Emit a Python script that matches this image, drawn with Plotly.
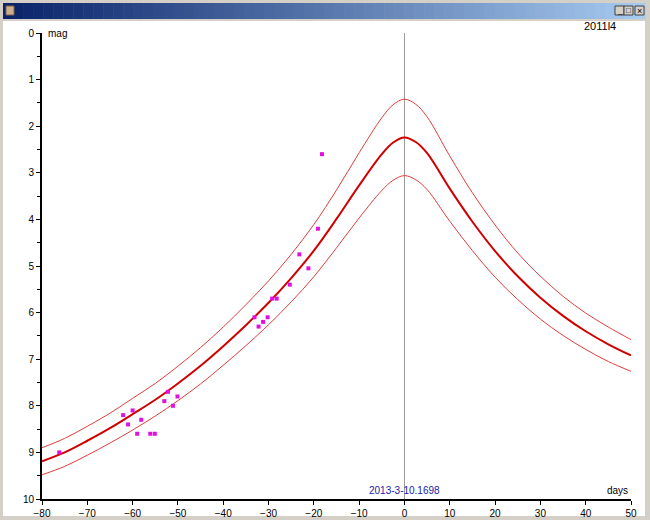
import plotly.graph_objects as go

# model light curve (days from perihelion, magnitude)
days = [-80, -75, -70, -65, -60, -55, -50, -45, -40, -35, -30, -25, -20, -15, -10, -5, -2.5,
        0, 2.5, 5, 10, 15, 20, 25, 30, 35, 40, 45, 50]
mag_mid = [9.19, 9.00, 8.75, 8.48, 8.18, 7.87, 7.52, 7.14, 6.72, 6.27, 5.79, 5.26, 4.67, 3.99, 3.27, 2.60, 2.35,
           2.24, 2.34, 2.58, 3.34, 4.05, 4.68, 5.22, 5.68, 6.07, 6.40, 6.68, 6.92]
mag_upper = [8.90, 8.70, 8.44, 8.16, 7.84, 7.52, 7.15, 6.75, 6.31, 5.83, 5.32, 4.75, 4.11, 3.37, 2.57, 1.82, 1.54,
             1.42, 1.53, 1.80, 2.64, 3.43, 4.12, 4.72, 5.22, 5.65, 6.01, 6.31, 6.58]
mag_lower = [9.48, 9.30, 9.06, 8.80, 8.52, 8.22, 7.89, 7.53, 7.13, 6.71, 6.26, 5.77, 5.23, 4.61, 3.97, 3.38, 3.16,
             3.06, 3.15, 3.36, 4.04, 4.67, 5.24, 5.72, 6.14, 6.49, 6.79, 7.05, 7.26]

# observations
obs_days = [-76.2, -62.1, -61.0, -60.0, -59.0, -58.1, -56.1, -55.1, -53.0, -52.2, -51.1, -50.1,
            -33.1, -32.2, -31.2, -30.2, -29.2, -28.2, -25.3, -23.2, -21.2, -19.1, -18.2]
obs_mag = [9.0, 8.2, 8.4, 8.1, 8.6, 8.3, 8.6, 8.6, 7.9, 7.7, 8.0, 7.8,
           6.1, 6.3, 6.2, 6.1, 5.7, 5.7, 5.4, 4.75, 5.05, 4.2, 2.6]

x_ticks = list(range(-80, 51, 10))
y_ticks = list(range(0, 11))
comet = '2011l4'
perihelion = '2013-3-10.1698'

W, H = 650, 520
ML, MR, MT, MB = 42, 19, 33, 21


def px(x):
	return (x - ML) / (W - ML - MR)


def py(y):
	return (H - MB - y) / (H - MT - MB)


fig = go.Figure()

fig.add_trace(go.Scatter(x=days, y=mag_upper, mode='lines',
	line=dict(color='#E23C3C', width=1, shape='spline', smoothing=1.0)))
fig.add_trace(go.Scatter(x=days, y=mag_lower, mode='lines',
	line=dict(color='#E23C3C', width=1, shape='spline', smoothing=1.0)))
fig.add_trace(go.Scatter(x=days, y=mag_mid, mode='lines',
	line=dict(color='#D00000', width=2, shape='spline', smoothing=1.0)))
fig.add_trace(go.Scatter(x=obs_days, y=obs_mag, mode='markers',
	marker=dict(symbol='square', size=4, color='#E010E0', line=dict(width=0))))

shapes = []
# window client area
shapes.append(dict(type='rect', xref='paper', yref='paper', layer='below',
	x0=px(3), x1=px(645), y0=py(516), y1=py(21), fillcolor='white', line=dict(width=0)))
# title bar gradient
n = 64
c0 = (10, 36, 106)
c1 = (166, 202, 240)
for i in range(n):
	t = i / (n - 1)
	col = 'rgb(%d,%d,%d)' % tuple(int(c0[k] + (c1[k] - c0[k]) * t) for k in range(3))
	xa = 3 + (645 - 3) * i / n
	xb = 3 + (645 - 3) * (i + 1) / n + 0.5
	shapes.append(dict(type='rect', xref='paper', yref='paper', layer='above',
		x0=px(xa), x1=px(xb), y0=py(19), y1=py(3), fillcolor=col, line=dict(width=0)))
# title bar buttons
for bx in [615, 624, 635]:
	shapes.append(dict(type='rect', xref='paper', yref='paper', layer='above',
		x0=px(bx), x1=px(bx + 9), y0=py(15), y1=py(6), fillcolor='#D4D0C8',
		line=dict(color='#404040', width=1)))
# java icon
shapes.append(dict(type='rect', xref='paper', yref='paper', layer='above',
	x0=px(6), x1=px(14), y0=py(15), y1=py(6), fillcolor='#C8B090', line=dict(color='#806040', width=1)))
# perihelion line
shapes.append(dict(type='line', xref='x', yref='y', x0=0, x1=0, y0=0, y1=10,
	line=dict(color='#999999', width=1), layer='below'))

font = dict(family='Liberation Sans, Arial', size=10, color='black')
annotations = [
	dict(text='mag', x=px(46), y=py(33), xanchor='left', yanchor='middle'),
	dict(text=comet, x=px(618), y=py(26), xanchor='right', yanchor='middle', font=dict(size=11)),
	dict(text='days', x=px(630), y=py(490), xanchor='right', yanchor='middle'),
	dict(text=perihelion, x=px(404), y=py(490), xanchor='center', yanchor='middle',
		font=dict(color='#2020B0')),
	dict(text='_', x=px(619.5), y=py(10), xanchor='center', yanchor='middle', font=dict(size=8)),
	dict(text='□', x=px(628.5), y=py(10.5), xanchor='center', yanchor='middle', font=dict(size=8)),
	dict(text='×', x=px(639.5), y=py(10.5), xanchor='center', yanchor='middle', font=dict(size=9)),
]
for a in annotations:
	a.update(xref='paper', yref='paper', showarrow=False)
	f = dict(font)
	f.update(a.get('font', {}))
	a['font'] = f

fig.update_layout(
	width=W, height=H,
	margin=dict(l=ML, r=MR, t=MT, b=MB, pad=0),
	paper_bgcolor='#D4D0C8', plot_bgcolor='white',
	showlegend=False,
	shapes=shapes,
	annotations=annotations,
	font=font,
)
fig.update_xaxes(range=[-80, 50], tickvals=x_ticks, ticks='outside', ticklen=4, tickcolor='black',
	showline=True, linecolor='black', linewidth=2, showgrid=False, zeroline=False,
	tickfont=dict(size=10), automargin=False)
fig.update_yaxes(range=[10, 0], tickvals=y_ticks, ticks='outside', ticklen=4, tickcolor='black',
	minor=dict(ticks='outside', dtick=0.5, ticklen=3, tickcolor='black'),
	showline=True, linecolor='black', linewidth=2, showgrid=False, zeroline=False,
	tickfont=dict(size=10), automargin=False)

# the page has a default 8px body margin; drop it so the figure fills the window
fig.write_html('out.html', config={'displayModeBar': False},
	post_script="document.body.style.margin='0';document.body.style.overflow='hidden';")
